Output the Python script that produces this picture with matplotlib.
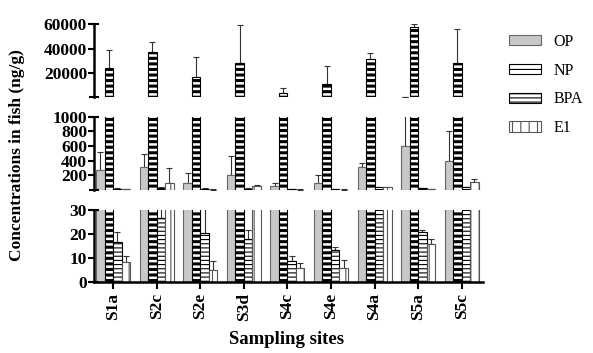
import numpy as np
import matplotlib
matplotlib.use('Agg')
import matplotlib.pyplot as plt
from matplotlib.patches import Patch
from matplotlib.transforms import blended_transform_factory

plt.rcParams['font.family'] = 'serif'
plt.rcParams['font.serif'] = ['Liberation Serif', 'DejaVu Serif']
plt.rcParams['hatch.linewidth'] = 0.8

# ── 数据──
sites = ['S1a', 'S2c', 'S2e', 'S3d', 'S4c', 'S4e', 'S4a', 'S5a', 'S5c']
series = ['OP', 'NP', 'BPA', 'E1']

op_mean = [270, 320, 100, 210, 60, 100, 320, 600, 400]
op_err = [255, 170, 135, 257, 40, 100, 45, 500, 400]
np_mean = [23900, 37000, 17000, 28000, 4100, 11500, 32000, 57600, 28300]
np_err = [15400, 8300, 16500, 31000, 3600, 14500, 4500, 2200, 27400]
bpa_mean = [16.7, 26.8, 20.2, 18.0, 8.6, 13.2, 40, 20.8, 35]
bpa_err = [4.3, 8, 12, 3.8, 2.1, 1.4, 5, 0.7, 6]
e1_mean = [8.1, 90, 4.9, 55, 5.6, 5.6, 40, 15.6, 110]
e1_err = [2.7, 210, 3.7, 10, 2.3, 3.4, 5, 2.4, 40]

means = [op_mean, np_mean, bpa_mean, e1_mean]
errs = [op_err, np_err, bpa_err, e1_err]

styles = [
    dict(facecolor='#c8c8c8', edgecolor='#666666', hatch=None, hlw=0.8),
    dict(facecolor='white', edgecolor='black', hatch='---', hlw=2.2),
    dict(facecolor='white', edgecolor='black', hatch='----', hlw=0.8),
    dict(facecolor='white', edgecolor='#555555', hatch='||', hlw=0.8),
]

W, H = 593, 353
fig = plt.figure(figsize=(W / 100, H / 100), dpi=100)

left, right = 94 / W, 483 / W
panels = [  # (top px, bottom px, ylim, ticks)
    (24, 96.7, (1000, 60000), [20000, 40000, 60000]),
    (116.7, 190, (0, 1000), [200, 400, 600, 800, 1000]),
    (210, 281.7, (0, 30), [0, 10, 20, 30]),
]

x = np.arange(len(sites))
bw = 0.195
offsets = (np.arange(4) - 1.5) * bw

axes = []
for top_px, bot_px, ylim, ticks in panels:
    ax = fig.add_axes([left, 1 - bot_px / H, right - left, (bot_px - top_px) / H])
    for k in range(4):
        st = styles[k]
        vals = np.array(means[k], dtype=float)
        err = np.array(errs[k], dtype=float)
        # 只画本段可见的柱子和误差线
        show = vals > ylim[0]
        with plt.rc_context({'hatch.linewidth': st['hlw']}):
            bars = ax.bar(x[show] + offsets[k], vals[show], width=bw,
                          facecolor=st['facecolor'], edgecolor=st['edgecolor'],
                          hatch=st['hatch'], linewidth=0.8, zorder=2)
        for b in bars:
            if hasattr(b, 'set_hatch_linewidth'):
                b.set_hatch_linewidth(st['hlw'])
        show_e = (vals + err) > ylim[0]
        if show_e.any():
            ax.errorbar(x[show_e] + offsets[k], vals[show_e],
                        yerr=[np.zeros(show_e.sum()), err[show_e]], fmt='none',
                        ecolor='#333333', elinewidth=0.8, capsize=2,
                        capthick=0.8, zorder=1)
    ax.set_xlim(-0.44, 8.49)
    ax.set_ylim(*ylim)
    ax.set_yticks(ticks)
    ax.set_yticklabels([str(t) for t in ticks], fontweight='bold', fontsize=12.5)
    for s in ['top', 'right', 'bottom']:
        ax.spines[s].set_visible(False)
    ax.spines['left'].set_linewidth(1.8)
    ax.tick_params(axis='y', direction='out', length=4, width=1.5, pad=1)
    ax.tick_params(axis='x', bottom=False, labelbottom=False)
    ax.patch.set_alpha(0)
    # 断轴端帽
    tr = blended_transform_factory(ax.transAxes, ax.transData)
    for yy in ylim:
        ax.plot([-0.012, 0.012], [yy, yy], color='black', lw=1.5,
                transform=tr, clip_on=False, solid_capstyle='butt')
    axes.append(ax)

ax_b = axes[-1]
ax_b.spines['bottom'].set_visible(True)
ax_b.spines['bottom'].set_linewidth(1.8)
ax_b.tick_params(axis='x', bottom=True, labelbottom=True, direction='out',
                 length=5, width=1.5, pad=3)
ax_b.set_xticks(x)
ax_b.set_xticklabels(sites, rotation=90, fontweight='bold', fontsize=12.5)

fig.text(0.029, 0.56, 'Concentrations in fish (ng/g)', rotation=90,
         ha='center', va='center', fontweight='bold', fontsize=12.5)
fig.text(0.484, 0.037, 'Sampling sites', ha='center', va='center',
         fontweight='bold', fontsize=13.5)

handles = []
for k in range(4):
    st = styles[k]
    with plt.rc_context({'hatch.linewidth': st['hlw']}):
        p = Patch(facecolor=st['facecolor'], edgecolor=st['edgecolor'],
                  hatch=st['hatch'], linewidth=0.8)
    handles.append(p)
fig.legend(handles, series, loc='upper left', bbox_to_anchor=(0.834, 0.945),
           frameon=False, handlelength=2.0, handleheight=0.6,
           handletextpad=0.8, labelspacing=0.8,
           prop=dict(family='serif', size=11.5))

fig.savefig('out.png', dpi=100)
